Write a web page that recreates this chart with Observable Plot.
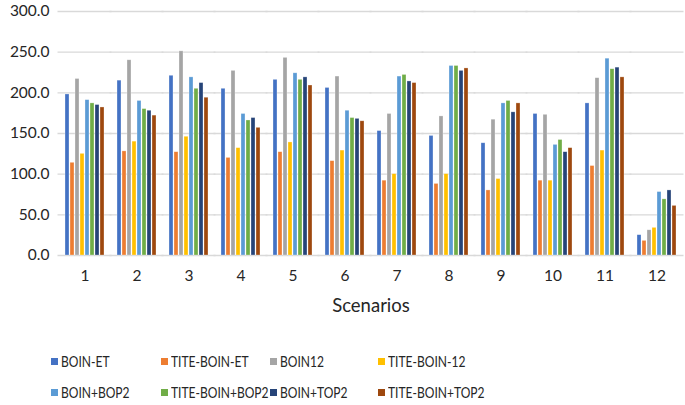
<!DOCTYPE html>
<html><head><meta charset="utf-8">
<script src="https://cdn.jsdelivr.net/npm/d3@7"></script>
<script src="https://cdn.jsdelivr.net/npm/@observablehq/plot@0.6"></script>
<style>
body{margin:0;background:#fff;font-family:Lato,sans-serif;}
#legend{display:grid;grid-template-columns:110px 109px 108px 130px;margin-left:51px;padding-top:16px;font-size:14.5px;color:#262626;}
.item{height:31px;display:flex;align-items:center;white-space:nowrap}
.sw{width:7px;height:7px;margin-right:3px;flex:none}
.lt{display:inline-block;transform:scaleX(0.83);transform-origin:left center}
</style></head><body>
<div id="chart"></div><div id="legend"></div>
<script>
const scenarios = ["1","2","3","4","5","6","7","8","9","10","11","12"];
const series = ["BOIN-ET","TITE-BOIN-ET","BOIN12","TITE-BOIN-12","BOIN+BOP2","TITE-BOIN+BOP2","BOIN+TOP2","TITE-BOIN+TOP2"];
const colors = ["#4472C4","#ED7D31","#A5A5A5","#FFC000","#5B9BD5","#70AD47","#264478","#9E480E"];
const yTicks = [0,50,100,150,200,250,300];

const boinET      = [198,215,221,205,216,206,153,147,138,174,187,25];
const titeBoinET  = [114,128,127,120,127,116,92,88,80,92,110,18];
const boin12      = [217,240,251,227,243,220,174,171,167,173,218,31];
const titeBoin12  = [125,140,146,132,139,129,100,100,94,92,129,34];
const boinBop2    = [191,190,219,174,224,178,220,233,187,136,242,78];
const titeBop2    = [187,180,205,166,216,169,222,233,190,142,229,69];
const boinTop2    = [185,178,212,169,219,168,214,227,176,127,231,80];
const titeTop2    = [182,172,194,157,209,165,212,230,187,132,219,61];
const values = [boinET,titeBoinET,boin12,titeBoin12,boinBop2,titeBop2,boinTop2,titeTop2];

const data = [];
series.forEach((s,i)=>values[i].forEach((v,j)=>data.push({scenario:scenarios[j],series:s,value:v})));

const chart = Plot.plot({
  width:685, height:330, marginTop:11, marginBottom:75, marginLeft:58, marginRight:3,
  style:{fontFamily:"Lato", fontSize:"15px", color:"#262626", background:"white"},
  fx:{domain:scenarios, paddingInner:0.18, paddingOuter:0.08},
  x:{domain:series, paddingInner:0.13, paddingOuter:0, axis:null},
  y:{domain:[0,300]},
  color:{domain:series, range:colors},
  marks:[
    Plot.ruleY(yTicks,{stroke:"#d9d9d9", strokeOpacity:1, strokeWidth:1.3, insetLeft:-5.5, insetRight:-5.5}),
    Plot.axisY(yTicks,{tickSize:0, tickPadding:14, tickFormat:d=>d.toFixed(1), label:null, fontSize:15.5, fill:"#262626"}),
    Plot.barY(data,{fx:"scenario", x:"series", y:"value", fill:"series", stroke:"white", strokeOpacity:0.5, strokeWidth:0.6}),
    Plot.axisFx({anchor:"bottom", tickSize:0, tickPadding:14, label:null, fontSize:15.5, fill:"#262626"}),
    Plot.axisFx({anchor:"bottom", tickSize:0, tickFormat:()=>"", label:"Scenarios", labelAnchor:"center", labelOffset:56, labelArrow:"none", fontSize:18.5, fill:"#262626"})
  ]
});
document.getElementById("chart").appendChild(chart);

const legend = document.getElementById("legend");
series.forEach((s,i)=>{
  const it = document.createElement("div"); it.className="item";
  const sw = document.createElement("span"); sw.className="sw"; sw.style.background=colors[i];
  const t = document.createElement("span"); t.className="lt"; t.textContent=s;
  it.appendChild(sw); it.appendChild(t); legend.appendChild(it);
});
</script>
</body></html>
